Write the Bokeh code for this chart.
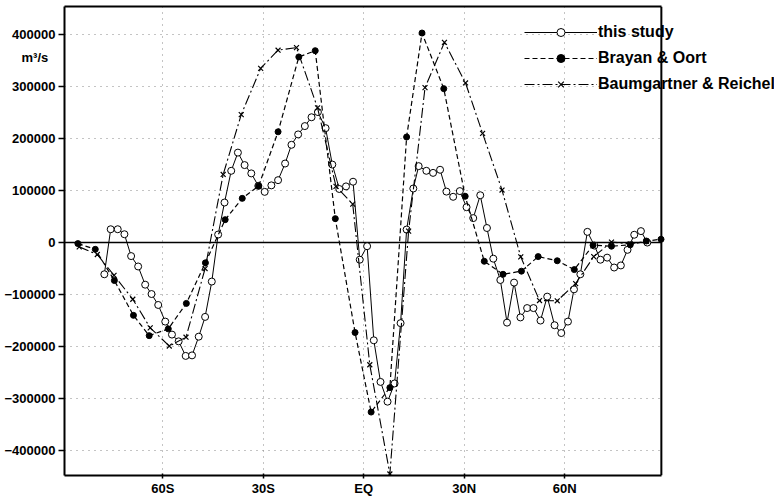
from bokeh.plotting import figure
from bokeh.models import (Range1d, FixedTicker, Span, Legend, LegendItem, LinearAxis,
                          BoxAnnotation)
from bokeh.embed import file_html
from bokeh.resources import INLINE

# ---- data (latitude in degrees, transport in m^3/s) ----
study_lat = [-77.5, -75.6, -73.5, -71.5, -69.5, -67.4, -65.3, -63.4, -61.4, -59.3,
             -57.3, -55.3, -53.2, -51.3, -49.3, -47.4, -45.4, -43.5, -41.6, -39.6,
             -37.6, -35.6, -33.6, -31.5, -29.6, -27.6, -25.6, -23.5, -21.6, -19.6,
             -17.6, -15.6, -13.7, -11.4, -9.4, -7.3, -5.3, -3.2, -1.2, 1.0,
             3.0, 5.0, 7.1, 9.2, 11.0, 12.8, 14.8, 16.4, 18.7, 20.7,
             22.8, 24.7, 26.7, 28.7, 30.7, 32.7, 34.8, 36.8, 38.7, 40.8,
             42.8, 44.9, 46.8, 48.8, 50.7, 52.8, 54.8, 57.0, 59.0, 61.0,
             62.8, 64.7, 66.8, 68.9, 70.7, 72.7, 74.8, 76.8, 78.8, 80.8,
             82.8, 84.7]
study_val = [-61000, 25600, 25600, 16000, -26000, -46000, -81000, -99000, -120000, -152000,
             -177000, -190000, -218000, -217000, -181000, -143000, -75000, 15400, 77000, 138000,
             173000, 149000, 133000, 109000, 97500, 110000, 120000, 152000, 188000, 208000,
             224000, 241000, 251000, 220000, 150000, 103000, 108000, 117000, -33000, -7000,
             -188000, -268000, -306000, -271000, -155000, 25000, 104000, 147000, 138000, 134000,
             140000, 98000, 88000, 99000, 68000, 47000, 91000, 28000, -31000, -72000,
             -154000, -77000, -144000, -126000, -126000, -150000, -104000, -159000, -174000, -152000,
             -90000, -61000, 20600, -5800, -33000, -29000, -48000, -44000, -14000, 15000,
             22000, 0]

bo_lat = [-85.4, -80.2, -74.5, -68.8, -64.1, -58.4, -53.0, -47.3, -41.4, -36.3,
          -31.4, -25.6, -19.4, -14.5, -8.5, -2.6, 2.2, 7.8, 12.8, 17.4,
          23.9, 30.3, 36.0, 41.6, 47.1, 52.1, 57.8, 62.9, 68.5, 74.0,
          79.6, 84.4, 88.8]
bo_val = [-2000, -13000, -73000, -140000, -179000, -166000, -117000, -39000, 44000, 85000,
          109000, 213000, 357000, 369000, 46000, -173000, -326000, -279000, 203000, 403000,
          296000, 89000, -36000, -61000, -55000, -27000, -35000, -52000, -5000, -7000,
          -4400, 3000, 6300]

br_lat = [-85.0, -79.6, -74.6, -69.0, -63.8, -58.1, -53.1, -47.4, -42.0, -36.6,
          -30.8, -25.6, -20.1, -13.8, -8.3, -3.3, 1.8, 7.8, 13.4, 18.3,
          24.1, 30.4, 35.5, 41.3, 46.9, 52.5, 57.8, 63.3, 68.7, 74.0,
          79.6, 84.4]
br_val = [-8300, -23000, -63000, -109000, -164000, -199000, -182000, -50000, 131000, 246000,
          335000, 370000, 375000, 259000, 108000, 74000, -235000, -445000, 22000, 298000,
          385000, 307000, 210000, 101000, -27500, -111500, -112000, -79000, -27000, 1000,
          -2500, 2500]

series_names = ["this study", "Brayan & Oort", "Baumgartner & Reichel"]
x_ticks = [-60, -30, 0, 30, 60]
x_labels = ["60S", "30S", "EQ", "30N", "60N"]
y_ticks = [-400000, -300000, -200000, -100000, 0, 100000, 200000, 300000, 400000]
y_labels = ["\u2212400000", "\u2212300000", "\u2212200000", "\u2212100000", "0",
            "100000", "200000", "300000", "400000"]
unit_label = "m\u00b3/s"

FONT = "Liberation Sans"
X_START, X_END = -89.4, 88.9          # latitude span of the drawn box
X_VIEW_END = 122.7                     # extra room on the right for the legend

p = figure(width=774, height=498, output_backend="svg", toolbar_location=None,
           x_range=Range1d(X_START, X_VIEW_END), y_range=Range1d(-448000, 454000),
           min_border_left=64, min_border_right=0, min_border_top=6,
           min_border_bottom=20, background_fill_color="white",
           border_fill_color="white")
p.outline_line_color = None

# axes
for ax in (p.xaxis, p.yaxis):
    ax.axis_line_color = "black"
    ax.axis_line_width = 2
    ax.major_tick_line_color = "black"
    ax.major_tick_line_width = 1.5
    ax.minor_tick_line_color = None
    ax.major_label_text_font = FONT
    ax.major_label_text_font_style = "bold"
    ax.major_label_text_font_size = "13px"
    ax.major_label_text_color = "black"

p.xaxis.ticker = FixedTicker(ticks=x_ticks)
p.xaxis.major_label_overrides = {t: l for t, l in zip(x_ticks, x_labels)}
p.xaxis.major_tick_in = 2
p.xaxis.major_tick_out = 3
p.xaxis.major_label_standoff = 2
p.xaxis.bounds = (X_START, X_END)

y_over = {t: l for t, l in zip(y_ticks, y_labels)}
# unit text placed under the top tick label
y_over[400000] = "\u00a0\n400000\n" + unit_label + "\u00a0\u00a0"
p.yaxis.ticker = FixedTicker(ticks=y_ticks)
p.yaxis.major_label_overrides = y_over
p.yaxis.major_label_text_line_height = 1.55
p.yaxis.major_tick_in = 0
p.yaxis.major_tick_out = 6
p.yaxis.major_label_standoff = 3

top_axis = LinearAxis(ticker=FixedTicker(ticks=[]), bounds=(X_START, X_END),
                      axis_line_color="black", axis_line_width=2,
                      major_tick_in=0, major_tick_out=0, major_label_standoff=0,
                      minor_tick_line_color=None, major_tick_line_color=None,
                      major_label_text_font_size="0px")
p.add_layout(top_axis, "above")

for g in (p.xgrid, p.ygrid):
    g.grid_line_color = "#888888"
    g.grid_line_dash = "1 5"
    g.grid_line_width = 1
p.xgrid.ticker = FixedTicker(ticks=x_ticks)
p.ygrid.ticker = FixedTicker(ticks=y_ticks)

p.add_layout(Span(location=0, dimension="width", line_color="black", line_width=1.5,
                  level="underlay"))
# blank out the area right of the box (legend area)
p.add_layout(BoxAnnotation(left=X_END, fill_color="white", fill_alpha=1.0,
                           line_alpha=0, level="underlay"))

# series
l1 = p.line(study_lat, study_val, line_color="black", line_width=1)
s1 = p.scatter(study_lat, study_val, marker="circle", size=7, fill_color="white",
               line_color="black", line_width=1)
l2 = p.line(bo_lat, bo_val, line_color="black", line_width=1.2, line_dash="5 3")
s2 = p.scatter(bo_lat, bo_val, marker="circle", size=6, fill_color="black",
               line_color="black")
l3 = p.line(br_lat, br_val, line_color="black", line_width=1.1, line_dash="10 3 2 3")
s3 = p.scatter(br_lat, br_val, marker="x", size=7, line_color="black", line_width=1.2)

legend = Legend(items=[LegendItem(label=series_names[0], renderers=[l1, s1]),
                       LegendItem(label=series_names[1], renderers=[l2, s2]),
                       LegendItem(label=series_names[2], renderers=[l3, s3])],
                location=(460, 381), glyph_width=73, glyph_height=20, label_height=20,
                spacing=6, padding=0, margin=0, label_standoff=1,
                background_fill_alpha=0, border_line_alpha=0,
                label_text_font=FONT, label_text_font_style="bold",
                label_text_font_size="16px", label_text_color="black")
p.add_layout(legend, "center")

# right edge of the box
p.add_layout(Span(location=X_END, dimension="height", line_color="black", line_width=2))

open("out.html", "w").write(file_html(p, INLINE))
